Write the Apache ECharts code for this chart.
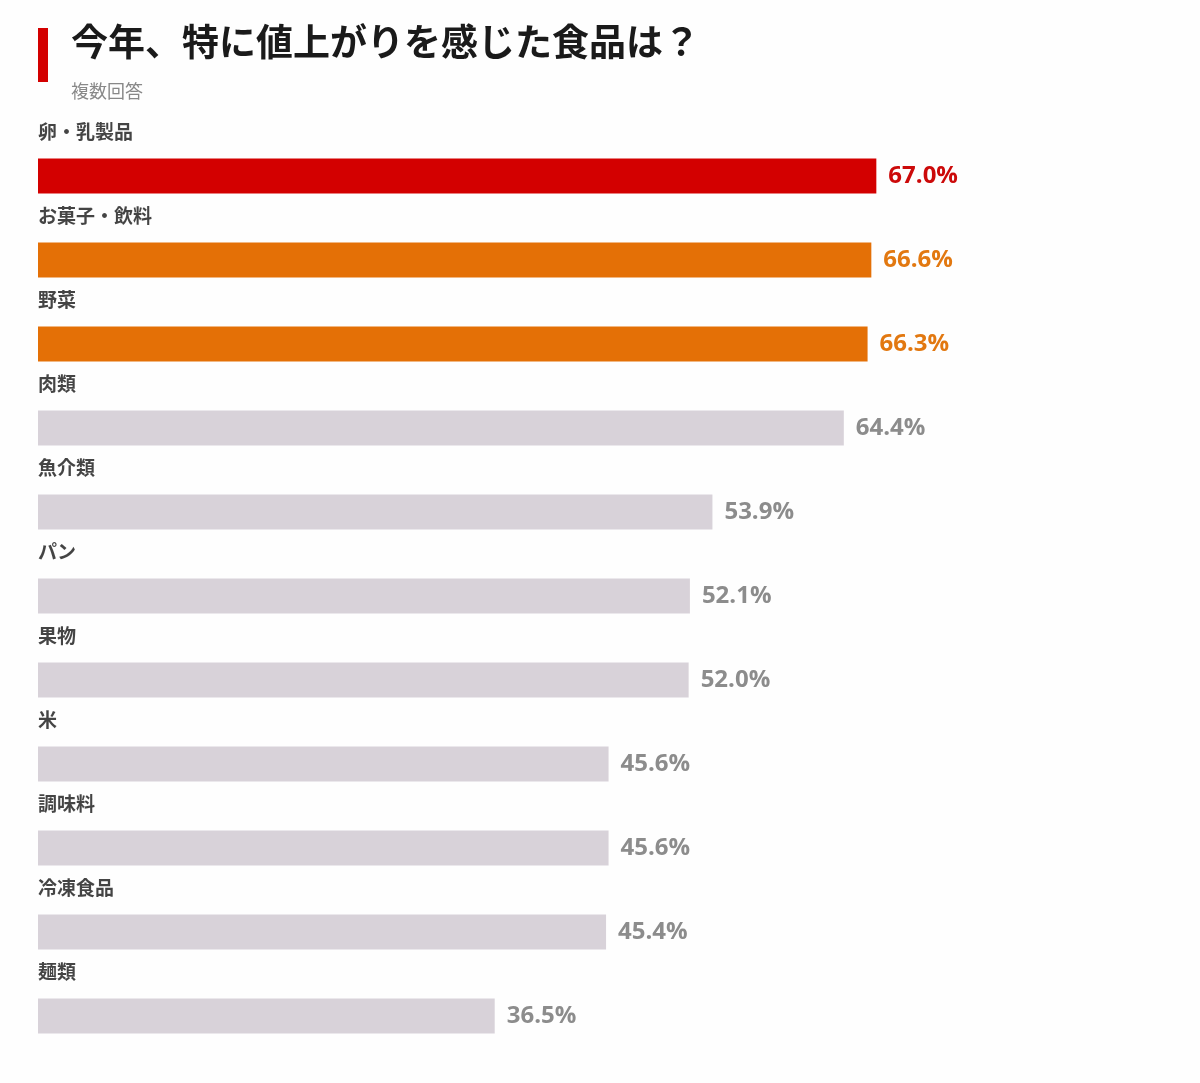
<!DOCTYPE html>
<html>
<head>
<meta charset="utf-8">
<script src="https://cdn.jsdelivr.net/npm/echarts@6/dist/echarts.min.js"></script>
<style>
  html, body { margin: 0; padding: 0; background: #fefefe; }
  #chart { width: 1200px; height: 1083px; }
</style>
</head>
<body>
<div id="chart"></div>
<script>
// data
const categories = ['卵・乳製品', 'お菓子・飲料', '野菜', '肉類', '魚介類', 'パン', '果物', '米', '調味料', '冷凍食品', '麺類'];
const values = [67.0, 66.6, 66.3, 64.4, 53.9, 52.1, 52.0, 45.6, 45.6, 45.4, 36.5];
// highlight: 0 = top, 1 = next two, 2 = rest
const ranks = [0, 1, 1, 2, 2, 2, 2, 2, 2, 2, 2];

const barColors = ['#d30000', '#e47006', '#d8d2d9'];
const labelColors = ['#cc0a0a', '#e27810', '#8c8c8c'];
const font = '"Noto Sans CJK JP", "Noto Sans", sans-serif';

const chart = echarts.init(document.getElementById('chart'));

const option = {
    backgroundColor: '#fefefe',
    animation: false,
    title: {
        text: '今年、特に値上がりを感じた食品は？',
        subtext: '複数回答',
        left: 66,
        top: 18,
        itemGap: 22,
        textStyle: { fontFamily: font, fontSize: 37, fontWeight: 'bold', color: '#1a1a1a' },
        subtextStyle: { fontFamily: font, fontSize: 18, color: '#888' }
    },
    graphic: [{
        type: 'rect',
        left: 38, top: 28,
        shape: { width: 10, height: 54 },
        style: { fill: '#d30000' }
    }],
    grid: { left: 38, top: 134, width: 1001, height: 924 },
    xAxis: {
        type: 'value', min: 0, max: 80,
        show: false
    },
    yAxis: {
        type: 'category', data: categories, inverse: true,
        show: false
    },
    series: [{
        type: 'bar',
        barWidth: 35,
        data: values.map((v, i) => ({
            value: v,
            itemStyle: { color: barColors[ranks[i]] },
            label: { color: labelColors[ranks[i]] }
        })),
        label: {
            show: true, position: 'right', distance: 12,
            formatter: p => p.value.toFixed(1) + '%',
            fontFamily: '"Open Sans", sans-serif', fontSize: 24, fontWeight: 'bold'
        }
    }, {
        // category names sit above each bar
        type: 'scatter',
        symbolSize: 0,
        data: categories.map(() => 0),
        label: {
            show: true, position: 'right', distance: 0, offset: [0, -44],
            formatter: p => categories[p.dataIndex],
            fontFamily: font, fontSize: 19, fontWeight: 'bold', color: '#151515'
        },
        silent: true
    }]
};

chart.setOption(option);
</script>
</body>
</html>
